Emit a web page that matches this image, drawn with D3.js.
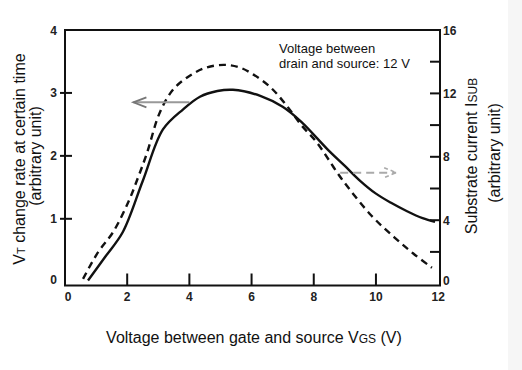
<!DOCTYPE html>
<html><head><meta charset="utf-8">
<script src="https://cdn.jsdelivr.net/npm/d3@7"></script>
<style>html,body{margin:0;padding:0;background:#fff;}svg{display:block;font-family:"Liberation Sans",Arial,sans-serif;}</style>
</head><body>
<script>
const vtV   = [0.74,1.3,1.86,2.5,3.15,3.8,4.34,4.9,5.4,6.3,7.0,7.6,8.45,9.0,9.5,10.0,10.5,11.0,11.5,11.9];
const vtVal = [0.02,0.4,0.79,1.6,2.42,2.74,2.94,3.03,3.05,2.95,2.78,2.54,2.10,1.84,1.60,1.40,1.25,1.12,1.01,0.95];
const subV   = [0.58,1.07,1.55,2.04,2.36,2.63,3.05,3.48,4.0,4.5,5.1,5.6,6.05,6.6,7.1,7.6,8.1,8.9,9.85,10.6,11.2,11.8];
const subVal = [0.3,2.0,3.26,5.16,6.75,8.2,10.8,12.25,13.1,13.6,13.8,13.65,13.2,12.4,11.3,10.0,8.9,6.6,4.3,2.9,1.9,1.0];
const xTicks = [0,2,4,6,8,10,12];
const yLeftTicks = [0,1,2,3,4];
const yRightTicks = [0,2,4,6,8,10,12,14,16];
const yRightLabels = [0,4,8,12,16];

const W=522,H=370;
const svg=d3.select("body").append("svg").attr("width",W).attr("height",H);
svg.append("rect").attr("x",508).attr("y",0).attr("width",14).attr("height",H).attr("fill","#f6f6f6");

const L=65,R=440,T=30,B=285.5;
const x=d3.scaleLinear().domain([0,12.06]).range([L,R]);
const yL=d3.scaleLinear().domain([-0.06,4]).range([B,T]);
const yR=d3.scaleLinear().domain([-0.12,16]).range([B,T]);

svg.append("rect").attr("x",L).attr("y",T).attr("width",R-L).attr("height",B-T)
  .attr("fill","none").attr("stroke","#111").attr("stroke-width",2);

const gx=svg.append("g");
xTicks.forEach(t=>{
  if(t>0&&t<12) gx.append("line").attr("x1",x(t)).attr("x2",x(t)).attr("y1",B).attr("y2",B-12).attr("stroke","#111").attr("stroke-width",2);
  gx.append("text").attr("x",x(t)+(t===0?3:0)).attr("y",B+15).attr("text-anchor","middle")
    .attr("font-size",12).attr("font-weight","bold").attr("fill","#222").text(t);
});
yLeftTicks.forEach(t=>{
  if(t>0&&t<4) svg.append("line").attr("x1",L-5).attr("x2",L+7).attr("y1",yL(t)).attr("y2",yL(t)).attr("stroke","#111").attr("stroke-width",2);
  svg.append("text").attr("x",57).attr("y",yL(t)+4.5-(t===0?2:0)).attr("text-anchor","end")
    .attr("font-size",12).attr("font-weight","bold").attr("fill","#222").text(t);
});
yRightTicks.forEach(t=>{
  if(t>0&&t<16) svg.append("line").attr("x1",R-10).attr("x2",R).attr("y1",yR(t)).attr("y2",yR(t)).attr("stroke","#111").attr("stroke-width",2);
});
yRightLabels.forEach(t=>{
  svg.append("text").attr("x",443).attr("y",yR(t)+4.5-(t===0?3:0)).attr("text-anchor","start")
    .attr("font-size",12).attr("font-weight","bold").attr("fill","#222").text(t);
});

const lineL=d3.line().x(d=>x(d[0])).y(d=>yL(d[1])).curve(d3.curveCatmullRom.alpha(0.5));
const lineR=d3.line().x(d=>x(d[0])).y(d=>yR(d[1])).curve(d3.curveCatmullRom.alpha(0.5));
svg.append("path").datum(subV.map((v,i)=>[v,subVal[i]])).attr("d",lineR)
  .attr("fill","none").attr("stroke","#111").attr("stroke-width",2.4).attr("stroke-dasharray","7,5");
svg.append("path").datum(vtV.map((v,i)=>[v,vtVal[i]])).attr("d",lineL)
  .attr("fill","none").attr("stroke","#111").attr("stroke-width",2.4);

const ax1=x(4.0), ax2=x(2.2), ay=yL(2.85);
svg.append("line").attr("x1",ax1).attr("x2",ax2).attr("y1",ay).attr("y2",ay).attr("stroke","#999").attr("stroke-width",2);
svg.append("path").attr("d",`M${ax2+13},${ay-5}L${ax2},${ay}L${ax2+13},${ay+5}`).attr("fill","none").attr("stroke","#777").attr("stroke-width",1.8);
const bx1=x(8.85), bx2=x(10.65), by=yR(7.0);
svg.append("line").attr("x1",bx1).attr("x2",bx2).attr("y1",by).attr("y2",by).attr("stroke","#aaa").attr("stroke-width",2).attr("stroke-dasharray","8,5");
svg.append("path").attr("d",`M${bx2-12},${by-5}L${bx2},${by}L${bx2-12},${by+5}`).attr("fill","none").attr("stroke","#aaa").attr("stroke-width",1.6).attr("stroke-dasharray","4,3");

const ann=svg.append("text").attr("font-size",13).attr("fill","#111");
ann.append("tspan").attr("x",279).attr("y",53).text("Voltage between");
ann.append("tspan").attr("x",279).attr("y",68).text("drain and source: 12 V");

const xt=svg.append("text").attr("x",254).attr("y",343).attr("text-anchor","middle").attr("font-size",16).attr("fill","#111");
xt.append("tspan").text("Voltage between gate and source V");
xt.append("tspan").attr("font-size",12).text("GS");
xt.append("tspan").text(" (V)");

const lt=svg.append("text").attr("transform","translate(25,159) rotate(-90)").attr("text-anchor","middle").attr("font-size",16).attr("fill","#111");
lt.append("tspan").text("V");
lt.append("tspan").attr("font-size",11).text("T");
lt.append("tspan").text(" change rate at certain time");
svg.append("text").attr("transform","translate(41,156) rotate(-90)").attr("text-anchor","middle").attr("font-size",16).attr("fill","#111").text("(arbitrary unit)");

const rt=svg.append("text").attr("transform","translate(477,156) rotate(-90)").attr("text-anchor","middle").attr("font-size",16).attr("fill","#111");
rt.append("tspan").text("Substrate current I");
rt.append("tspan").attr("font-size",12).text("SUB");
svg.append("text").attr("transform","translate(500,153) rotate(-90)").attr("text-anchor","middle").attr("font-size",16).attr("fill","#111").text("(arbitrary unit)");
</script>
</body></html>
